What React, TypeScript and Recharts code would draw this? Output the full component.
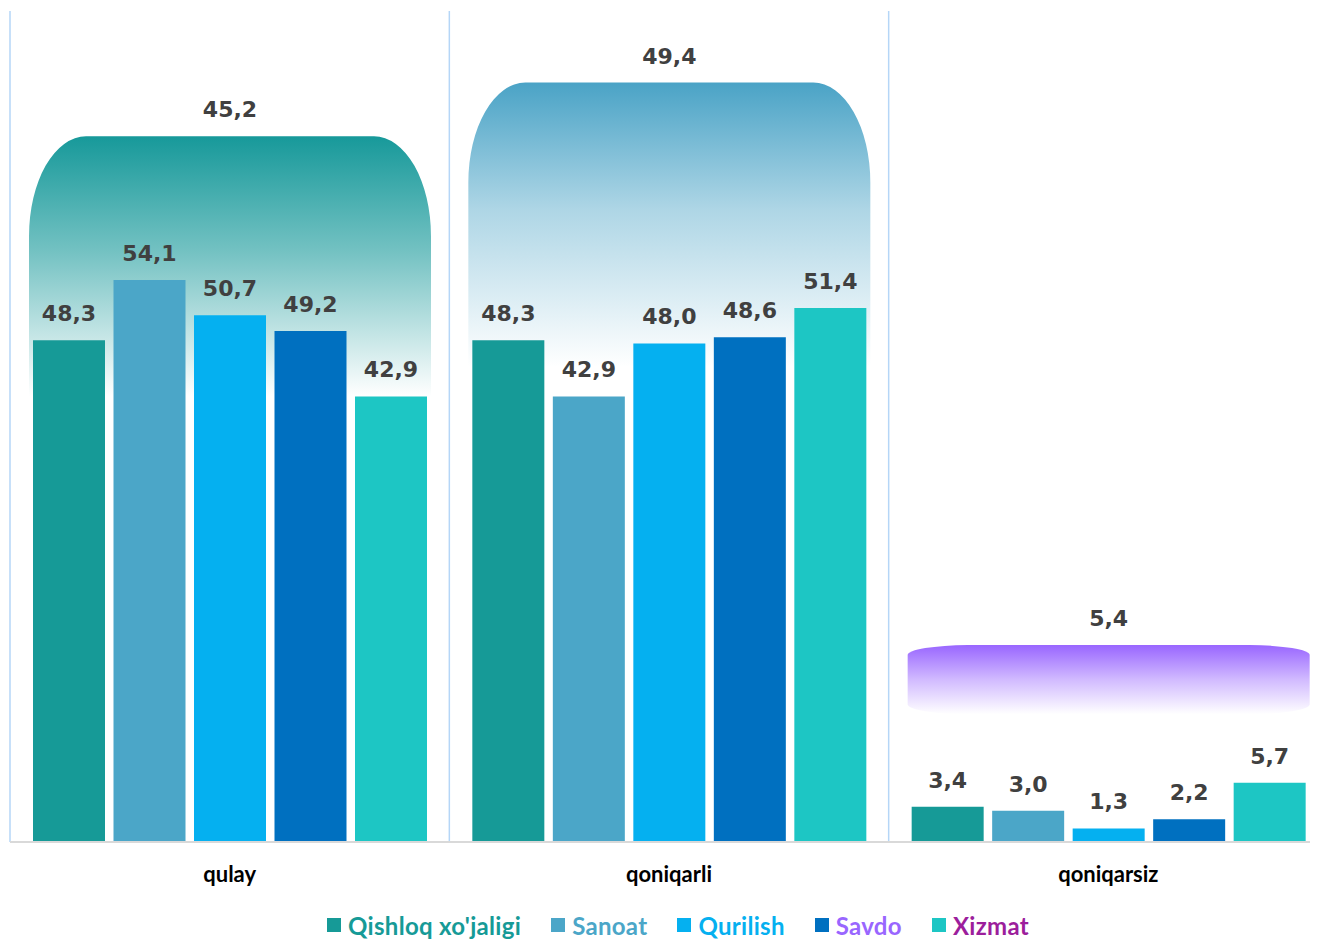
import { BarChart, Bar, XAxis, YAxis, Cell, LabelList, Legend, CartesianGrid } from "recharts";

const categories = ["qulay", "qoniqarli", "qoniqarsiz"];
const qishloq = [48.3, 48.3, 3.4];
const sanoat = [54.1, 42.9, 3.0];
const qurilish = [50.7, 48.0, 1.3];
const savdo = [49.2, 48.6, 2.2];
const xizmat = [42.9, 51.4, 5.7];
const umumiy = [45.2, 49.4, 5.4];

const seriesNames = ["Qishloq xo'jaligi", "Sanoat", "Qurilish", "Savdo", "Xizmat"];
const seriesKeys = ["qishloq", "sanoat", "qurilish", "savdo", "xizmat"];
const barColors = ["#169A97", "#4BA6C8", "#05B0F0", "#0070C0", "#1DC6C4"];
const legendTextColors = ["#169A97", "#4BA6C8", "#05B0F0", "#9966FF", "#9C1E9C"];
const bgColors = ["#17999A", "#4AA3C6", "#9966FF"];

const data = categories.map((name, i) => ({
  name,
  qishloq: qishloq[i],
  sanoat: sanoat[i],
  qurilish: qurilish[i],
  savdo: savdo[i],
  xizmat: xizmat[i],
  umumiy: umumiy[i],
  slot: i,
}));

const fmt = (v: number) => v.toFixed(1).replace(".", ",");

const labelStyle = {
  fontFamily: "DejaVu Sans",
  fontWeight: 700,
  fontSize: 22,
  fill: "#404040",
};

// gradient bosqichlari: [offset, shaffoflik]
const fadeStops = [
  [[0, 1], [0.2, 0.6], [0.45, 0], [1, 0]],
  [[0, 1], [0.2, 0.45], [0.45, 0], [1, 0]],
  [[0, 1], [0.5, 0.45], [1, 0]],
];

// fon ustuni: yumaloq burchakli shakl
const BgShape = (props: any) => {
  const { x, y, width, height, fill } = props;
  if (!height || height <= 0) return null;
  const tall = height > 300;
  const rx = tall ? 57 : 60;
  const ry = tall ? 100 : 10;
  const b = y + height;
  const d = `M${x},${b - ry} V${y + ry} A${rx},${ry} 0 0 1 ${x + rx},${y} H${x + width - rx} A${rx},${ry} 0 0 1 ${x + width},${y + ry} V${b - ry} A${rx},${ry} 0 0 1 ${x + width - rx},${b} H${x + rx} A${rx},${ry} 0 0 1 ${x},${b - ry} Z`;
  return <path d={d} fill={fill} />;
};

const LegendContent = () => (
  <div
    style={{
      height: 40,
      display: "flex",
      alignItems: "center",
      justifyContent: "center",
      paddingLeft: 18,
      paddingBottom: 6,
      boxSizing: "border-box",
      fontFamily: "Lato",
      fontWeight: 700,
      fontSize: 24,
      letterSpacing: 0.3,
    }}
  >
    {seriesNames.map((n, i) => (
      <div key={n} style={{ display: "flex", alignItems: "center", marginRight: i < 4 ? 30 : 0 }}>
        <span style={{ width: 14, height: 14, background: barColors[i], marginRight: 7, display: "inline-block" }} />
        <span style={{ color: legendTextColors[i] }}>{n}</span>
      </div>
    ))}
  </div>
);

export default function App() {
  return (
    <div style={{ width: 1310, height: 932, overflow: "hidden" }}>
      <BarChart
        width={1322}
        height={940}
        data={data}
        margin={{ top: 3, right: 2, left: 2, bottom: 0 }}
        barGap={8.5}
      >
        <defs>
          {bgColors.map((c, i) => (
            <linearGradient key={i} id={`bg${i}`} x1="0" y1="0" x2="0" y2="1">
              {fadeStops[i].map(([o, a], j) => (
                <stop key={j} offset={o} stopColor={c} stopOpacity={a} />
              ))}
            </linearGradient>
          ))}
        </defs>
        <XAxis xAxisId="grid" type="number" dataKey="slot" domain={[0, 3]} ticks={[0, 1, 2, 3]} allowDataOverflow hide />
        <CartesianGrid xAxisId="grid" horizontal={false} vertical stroke="#B5D6F7" strokeWidth={1.5} />
        <XAxis
          dataKey="name"
          height={66}
          tickLine={false}
          tickSize={0}
          tickMargin={24}
          axisLine={{ stroke: "#D9D9D9", strokeWidth: 2 }}
          tick={{ fontFamily: "Lato", fontWeight: 700, fontSize: 22, fill: "#000000" }}
        />
        <XAxis xAxisId="bg" dataKey="name" hide />
        <YAxis domain={[0, 80]} hide />
        <YAxis yAxisId="bg" domain={[-10, 55]} hide />
        <Bar
          dataKey="umumiy"
          xAxisId="bg"
          yAxisId="bg"
          barSize={402}
          shape={BgShape}
          isAnimationActive={false}
        >
          {data.map((_, i) => (
            <Cell key={i} fill={`url(#bg${i})`} />
          ))}
          <LabelList dataKey="umumiy" position="top" offset={19} formatter={fmt} style={labelStyle} />
        </Bar>
        {seriesKeys.map((k, i) => (
          <Bar key={k} dataKey={k} name={seriesNames[i]} fill={barColors[i]} barSize={72} isAnimationActive={false}>
            <LabelList dataKey={k} position="top" offset={19} formatter={fmt} style={labelStyle} />
          </Bar>
        ))}
        <Legend verticalAlign="bottom" content={LegendContent} />
      </BarChart>
    </div>
  );
}
